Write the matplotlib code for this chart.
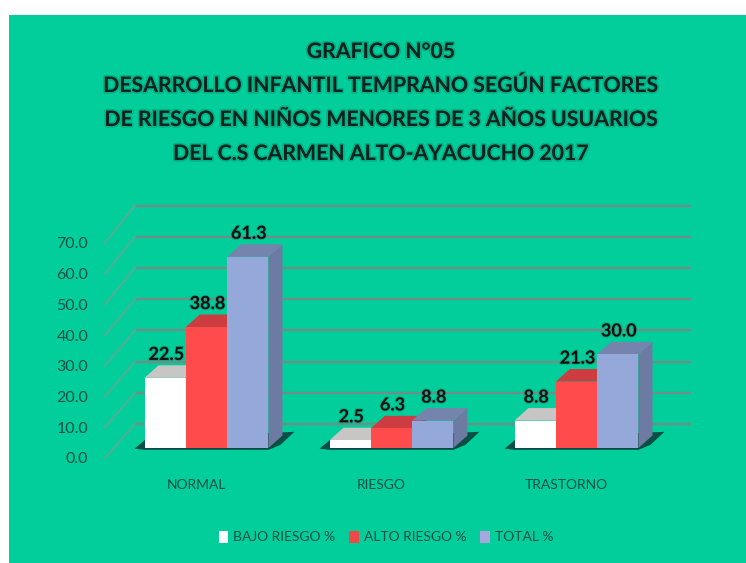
import matplotlib
matplotlib.use("Agg")
import matplotlib.pyplot as plt
import matplotlib.patheffects as pe
from matplotlib.patches import Patch, Polygon, Rectangle

# data
categories = ["NORMAL", "RIESGO", "TRASTORNO"]
bajo = [22.5, 2.5, 8.8]
alto = [38.8, 6.3, 21.3]
total = [61.3, 8.8, 30.0]
series_names = ["BAJO RIESGO %", "ALTO RIESGO %", "TOTAL %"]
y_ticks = [0, 10, 20, 30, 40, 50, 60, 70]
title_lines = [
    "GRAFICO N°05",
    "DESARROLLO INFANTIL TEMPRANO SEGÚN FACTORES",
    "DE RIESGO EN NIÑOS MENORES DE 3 AÑOS USUARIOS",
    "DEL C.S CARMEN ALTO-AYACUCHO 2017",
]

W, H = 746, 563
GREEN = "#02CE9B"
TEXT = "#0E4F45"
GRID = "#6E8F88"
FONT = "Lato"

fig = plt.figure(figsize=(W / 100, H / 100), dpi=100, facecolor="white")
fig.patches.append(Rectangle((9 / W, 0), 1, 1 - 15 / H, transform=fig.transFigure,
                             facecolor=GREEN, edgecolor="none", zorder=-5))

# pixel layout of the plot: y=0 at row 448, 3.12 px per unit, groups 185 px apart
px_x, px_y = 185.0, 3.12
left, right, top, bottom = 105, 700, 190, 464
ax = fig.add_axes([left / W, 1 - bottom / H, (right - left) / W, (bottom - top) / H])
ax.set_xlim((left - 206.5) / px_x, (right - 206.5) / px_x)
ax.set_ylim((448 - bottom) / px_y, (448 - top) / px_y)
ax.patch.set_alpha(0)
for s in ax.spines.values():
    s.set_visible(False)

back_x = -71.5 / px_x
end_x = 484 / px_x
back_y = 24 / px_y
front_x = -101.5 / px_x
for v in y_ticks:
    ax.plot([back_x, end_x], [v + back_y, v + back_y], color=GRID, lw=1.7, zorder=1,
            solid_capstyle="butt")
    ax.plot([front_x, back_x], [v * 0.985 - 3.2, v + back_y], color="#4FAF95", lw=1.5,
            zorder=1, clip_on=False)

width = 41.3 / px_x
dx, dy = 14 / px_x, 4.0
fronts = ["#FFFFFF", "#FF4B4B", "#94A8DA"]
tops = ["#C8C6C4", "#CC3C40", "#7584AC"]
sides = ["#B0B0B0", "#B03538", "#6D7BA3"]

# floor shadow under each group
for i in range(len(categories)):
    x0 = i - 1.5 * width
    x1 = i + 1.5 * width
    ax.add_patch(Polygon([(x0 - 10 / px_x, -0.2), (x0 + 2 / px_x, 3), (x1 + 26 / px_x, 5.2),
                          (x1 + 12 / px_x, 1), (x1, -0.6), (x0, -0.6)],
                         facecolor="#0A4F45", edgecolor="none", zorder=2))

for j, vals in enumerate([bajo, alto, total]):
    offs = (j - 1) * width
    for i, v in enumerate(vals):
        x0 = i + offs - width / 2
        x1 = x0 + width
        ax.add_patch(Polygon([(x1, 0), (x1 + dx, dy), (x1 + dx, v + dy), (x1, v)],
                             facecolor=sides[j], edgecolor="none", zorder=3 + j))
        ax.add_patch(Polygon([(x0, v), (x0 + dx, v + dy), (x1 + dx, v + dy), (x1, v)],
                             facecolor=tops[j], edgecolor="none", zorder=3 + j))
    ax.bar([i + offs for i in range(len(vals))], vals, width, color=fronts[j], zorder=3 + j)
    for i, v in enumerate(vals):
        ax.text(i + offs + 1 / px_x, v + 7.5, f"{v:.1f}", ha="center", va="center",
                family=FONT, fontweight="bold", fontsize=13, color="#06110F", zorder=10,
                path_effects=[pe.withStroke(linewidth=1.5, foreground="#0A7A60", alpha=0.35)])

ax.set_xticks([i - 10 / px_x for i in range(len(categories))], categories)
ax.set_yticks([v * 0.985 - 3.2 for v in y_ticks], [f"{v:.1f}" for v in y_ticks])
ax.tick_params(axis="both", length=0, labelcolor=TEXT)
ax.tick_params(axis="x", pad=11, labelsize=10)
ax.tick_params(axis="y", pad=12, labelsize=11.5)
for lab in ax.get_xticklabels() + ax.get_yticklabels():
    lab.set_family(FONT)

# title
for k, line in enumerate(title_lines):
    fig.text(381 / W, 1 - (52 + k * 34) / H, line, ha="center", va="center", family=FONT,
             fontweight="bold", fontsize=15.3, color="#08221D",
             path_effects=[pe.withStroke(linewidth=2.5, foreground="#0A7A60", alpha=0.35)])

# legend
handles = [Patch(facecolor=c, edgecolor="none") for c in ["#FFFFFF", "#F04848", "#A9A6E0"]]
fig.legend(handles, series_names, loc="center", bbox_to_anchor=(386 / W, 1 - 537 / H), ncol=3,
           frameon=False, handlelength=0.7, handleheight=1.0, handletextpad=0.35,
           columnspacing=1.0, labelcolor=TEXT, prop={"family": FONT, "size": 10})

fig.savefig("out.png", dpi=100, facecolor="white")
